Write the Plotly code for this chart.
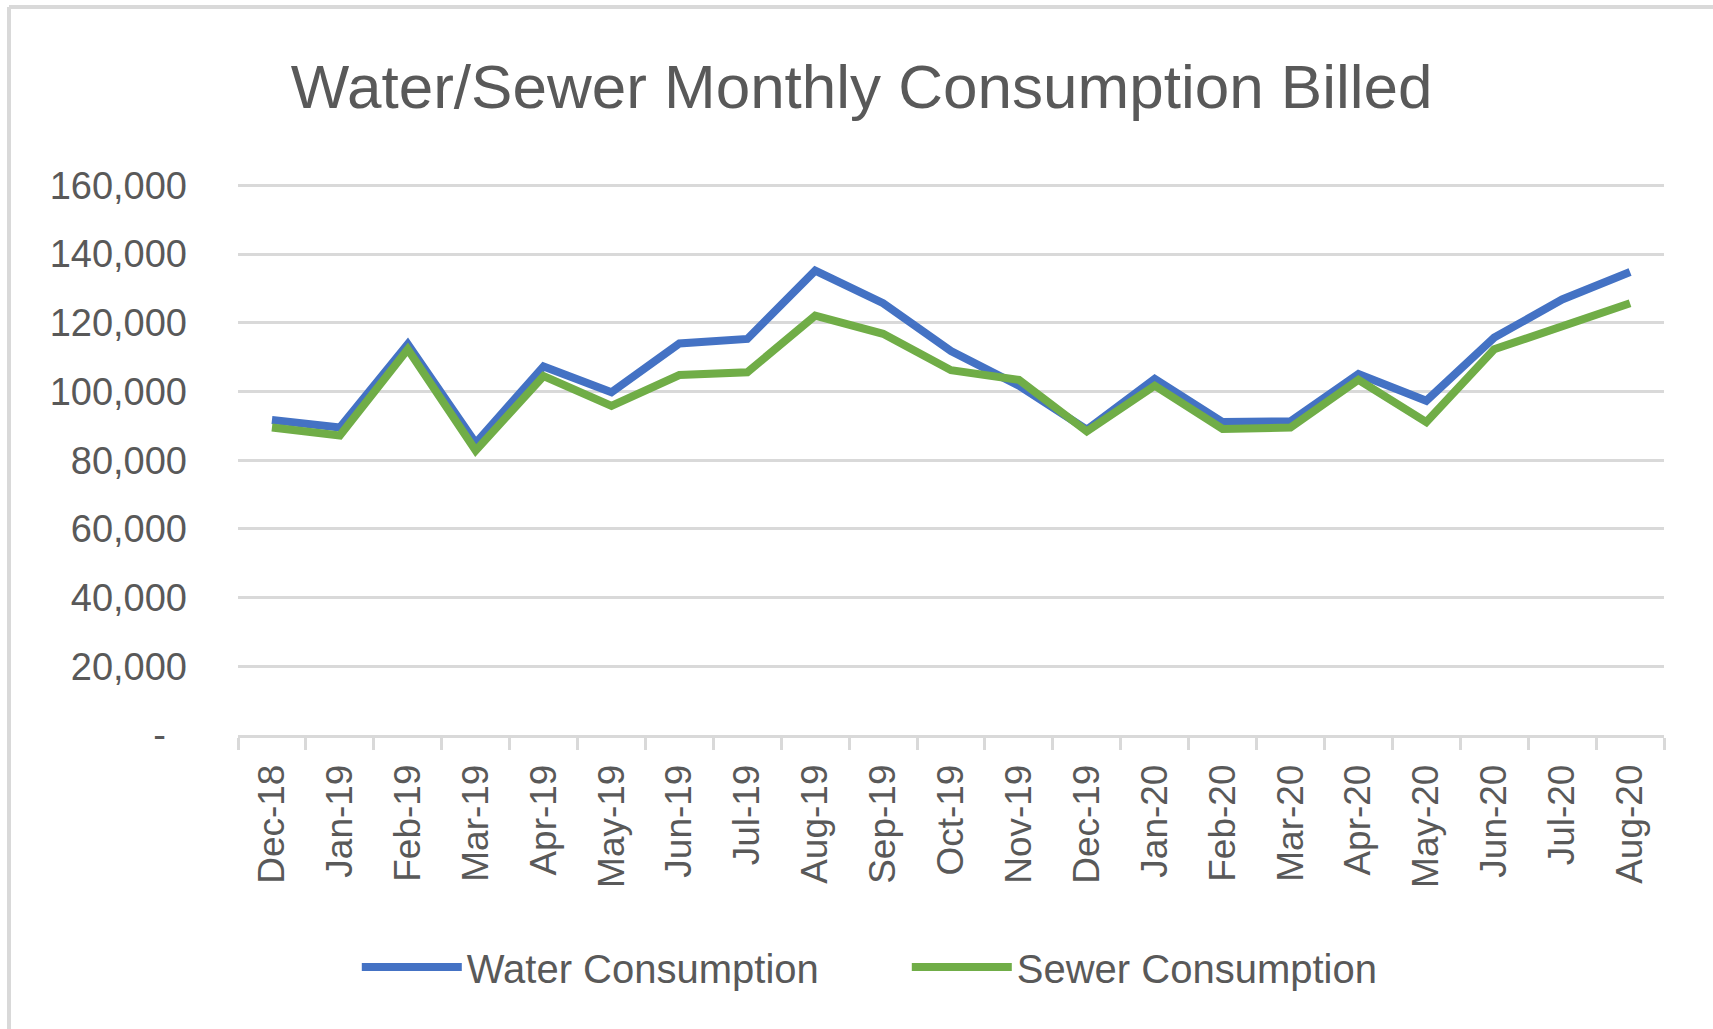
import plotly.graph_objects as go

months = ["Dec-18", "Jan-19", "Feb-19", "Mar-19", "Apr-19", "May-19", "Jun-19",
          "Jul-19", "Aug-19", "Sep-19", "Oct-19", "Nov-19", "Dec-19", "Jan-20",
          "Feb-20", "Mar-20", "Apr-20", "May-20", "Jun-20", "Jul-20", "Aug-20"]

water = [91700, 89500, 113800, 85000, 107300, 99800, 114000, 115300, 135200,
         125700, 111800, 101700, 88900, 103700, 91100, 91300, 105100, 97300,
         115700, 126800, 134800]

sewer = [89500, 87200, 112300, 82800, 104500, 95800, 104800, 105600, 122100,
         116800, 106200, 103400, 88400, 101700, 89100, 89500, 103400, 91100,
         112300, 119000, 125700]

y_ticks = [0, 20000, 40000, 60000, 80000, 100000, 120000, 140000, 160000]
y_tick_labels = ["-\u00a0\u00a0", "20,000", "40,000", "60,000", "80,000",
                 "100,000", "120,000", "140,000", "160,000"]

FONT = "Liberation Sans, Arial, sans-serif"
TXT = "#595959"
GRID = "#d9d9d9"

fig = go.Figure()
fig.add_trace(go.Scatter(x=months, y=water, mode="lines", name="Water Consumption",
                         line=dict(color="#4472C4", width=8, shape="linear"),
                         hoverinfo="skip"))
fig.add_trace(go.Scatter(x=months, y=sewer, mode="lines", name="Sewer Consumption",
                         line=dict(color="#70AD47", width=8, shape="linear"),
                         hoverinfo="skip"))

fig.update_layout(
    width=1713, height=1029,
    margin=dict(l=238, r=49, t=182, b=294),
    paper_bgcolor="white", plot_bgcolor="white",
    font=dict(family=FONT, color=TXT, size=38),
    title=dict(text="Water/Sewer Monthly Consumption Billed",
               font=dict(family=FONT, size=62, color=TXT),
               x=0.503, xref="container", xanchor="center",
               y=1 - 86 / 1029, yref="container", yanchor="middle"),
    showlegend=True,
    legend=dict(orientation="h", x=0.469, xanchor="center",
                y=1 - 967 / 1029, yref="container", yanchor="middle",
                font=dict(family=FONT, size=40, color=TXT),
                itemwidth=100, entrywidth=435, bgcolor="rgba(0,0,0,0)"),
    xaxis=dict(type="category", tickson="boundaries", ticks="outside",
               ticklen=12, tickcolor=GRID, tickwidth=2.5,
               showline=True, linecolor=GRID, linewidth=2.5,
               showgrid=False, tickangle=-90,
               tickfont=dict(family=FONT, size=37, color=TXT),
               ticklabelstandoff=12,
               range=[-0.5, len(months) - 0.5], fixedrange=True),
    yaxis=dict(range=[0, 161000], tickmode="array", tickvals=y_ticks,
               ticktext=y_tick_labels, showgrid=True, gridcolor=GRID,
               gridwidth=2.5, zeroline=False, showline=False, ticks="",
               tickfont=dict(family=FONT, size=38, color=TXT),
               ticklabelstandoff=50, fixedrange=True),
)

# chart-area border (top and left edges visible in the reference)
fig.add_shape(type="line", xref="paper", yref="paper",
              x0=(9 - 238) / 1426, x1=(1720 - 238) / 1426,
              y0=(735 - 7) / 553, y1=(735 - 7) / 553,
              line=dict(color=GRID, width=4))
fig.add_shape(type="line", xref="paper", yref="paper",
              x0=(9 - 238) / 1426, x1=(9 - 238) / 1426,
              y0=(735 - 7) / 553, y1=(735 - 1040) / 553,
              line=dict(color=GRID, width=4))

fig.write_html("out.html",
               config={"displayModeBar": False},
               post_script="document.body.style.margin='0';document.body.style.overflow='hidden';")
